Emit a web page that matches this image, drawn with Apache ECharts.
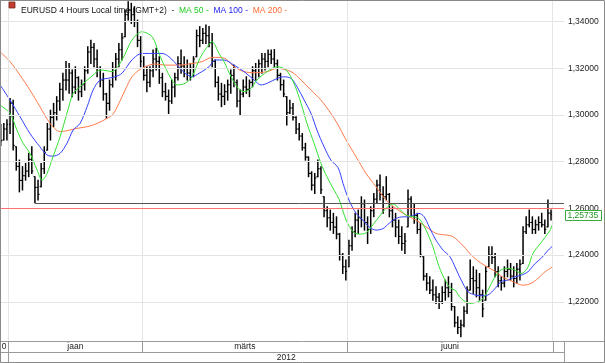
<!DOCTYPE html>
<html><head><meta charset="utf-8">
<script src="https://cdn.jsdelivr.net/npm/echarts@6/dist/echarts.min.js"></script>
<style>html,body{margin:0;padding:0;background:#fff}#c{width:605px;height:363px}</style>
</head><body><div id="c"></div>
<script>
// ---- data ----
const highs = [1.2960,1.2964,1.2980,1.3071,1.3064,1.2864,1.2807,1.2779,1.2793,1.2836,
1.2864,1.2736,1.2721,1.2793,1.2864,1.2964,1.3021,1.3050,1.3079,1.3136,
1.3179,1.3229,1.3221,1.3193,1.3207,1.3164,1.3150,1.3207,1.3293,1.3321,
1.3307,1.3279,1.3207,1.3179,1.3093,1.3150,1.3225,1.3264,1.3307,1.3350,
1.3450,1.3486,1.3479,1.3464,1.3407,1.3336,1.3250,1.3207,1.3207,1.3279,
1.3286,1.3250,1.3179,1.3136,1.3107,1.3150,1.3179,1.3250,1.3279,1.3250,
1.3236,1.3221,1.3250,1.3364,1.3379,1.3371,1.3386,1.3379,1.3350,1.3236,
1.3164,1.3136,1.3130,1.3150,1.3193,1.3214,1.3150,1.3107,1.3150,1.3164,
1.3150,1.3207,1.3221,1.3236,1.3264,1.3264,1.3279,1.3279,1.3281,1.3236,
1.3179,1.3150,1.3079,1.3064,1.3050,1.2993,1.2964,1.2921,1.2879,1.2821,
1.2757,1.2750,1.2807,1.2779,1.2650,1.2607,1.2593,1.2579,1.2564,1.2493,
1.2407,1.2379,1.2464,1.2521,1.2579,1.2593,1.2650,1.2636,1.2564,1.2607,
1.2664,1.2721,1.2743,1.2693,1.2736,1.2664,1.2607,1.2579,1.2550,1.2521,
1.2493,1.2679,1.2650,1.2621,1.2579,1.2536,1.2393,1.2321,1.2307,1.2293,
1.2264,1.2236,1.2264,1.2293,1.2307,1.2279,1.2179,1.2136,1.2121,1.2179,
1.2264,1.2379,1.2350,1.2336,1.2321,1.2250,1.2350,1.2436,1.2436,1.2407,
1.2350,1.2307,1.2350,1.2379,1.2364,1.2350,1.2364,1.2379,1.2521,1.2564,
1.2593,1.2564,1.2550,1.2564,1.2579,1.2550,1.2636,1.2593];
const lows = [1.2870,1.2893,1.2893,1.2921,1.2850,1.2764,1.2671,1.2679,1.2721,1.2736,
1.2750,1.2624,1.2636,1.2693,1.2750,1.2850,1.2893,1.2950,1.2979,1.3021,
1.3064,1.3107,1.3093,1.3079,1.3093,1.3064,1.3079,1.3107,1.3179,1.3221,
1.3207,1.3164,1.3121,1.3064,1.2986,1.3021,1.3120,1.3150,1.3207,1.3236,
1.3336,1.3407,1.3393,1.3379,1.3293,1.3207,1.3150,1.3100,1.3121,1.3164,
1.3193,1.3136,1.3079,1.3064,1.3007,1.3050,1.3079,1.3150,1.3179,1.3164,
1.3150,1.3150,1.3164,1.3250,1.3293,1.3307,1.3307,1.3293,1.3207,1.3121,
1.3064,1.3036,1.3045,1.3064,1.3093,1.3121,1.3036,1.3000,1.3079,1.3093,
1.3079,1.3121,1.3150,1.3164,1.3179,1.3193,1.3207,1.3221,1.3207,1.3150,
1.3107,1.3079,1.2957,1.3007,1.2979,1.2921,1.2893,1.2850,1.2807,1.2736,
1.2679,1.2664,1.2736,1.2664,1.2564,1.2521,1.2507,1.2493,1.2470,1.2379,
1.2321,1.2293,1.2350,1.2421,1.2479,1.2493,1.2521,1.2507,1.2450,1.2493,
1.2564,1.2621,1.2636,1.2579,1.2636,1.2564,1.2521,1.2479,1.2450,1.2421,
1.2407,1.2521,1.2564,1.2536,1.2493,1.2393,1.2293,1.2250,1.2236,1.2207,
1.2193,1.2171,1.2193,1.2207,1.2221,1.2164,1.2093,1.2064,1.2050,1.2093,
1.2150,1.2250,1.2236,1.2221,1.2207,1.2136,1.2207,1.2350,1.2364,1.2307,
1.2264,1.2250,1.2264,1.2307,1.2293,1.2264,1.2279,1.2293,1.2364,1.2493,
1.2521,1.2493,1.2493,1.2507,1.2521,1.2493,1.2521,1.2550];
const closes = [1.2890,1.2940,1.2960,1.3050,1.2870,1.2780,1.2720,1.2740,1.2760,1.2810,
1.2760,1.2690,1.2660,1.2770,1.2840,1.2940,1.2990,1.3010,1.3060,1.3110,
1.3150,1.3150,1.3180,1.3120,1.3160,1.3100,1.3130,1.3190,1.3270,1.3290,
1.3240,1.3200,1.3150,1.3090,1.3050,1.3130,1.3200,1.3240,1.3280,1.3330,
1.3430,1.3450,1.3430,1.3400,1.3320,1.3230,1.3170,1.3140,1.3190,1.3240,
1.3230,1.3160,1.3100,1.3080,1.3060,1.3120,1.3160,1.3220,1.3210,1.3200,
1.3180,1.3200,1.3240,1.3340,1.3320,1.3350,1.3340,1.3310,1.3230,1.3140,
1.3090,1.3080,1.3100,1.3130,1.3170,1.3140,1.3060,1.3090,1.3120,1.3110,
1.3140,1.3190,1.3200,1.3220,1.3240,1.3230,1.3260,1.3240,1.3220,1.3170,
1.3130,1.3090,1.3010,1.3030,1.2990,1.2940,1.2910,1.2860,1.2820,1.2750,
1.2700,1.2730,1.2770,1.2680,1.2590,1.2560,1.2540,1.2520,1.2490,1.2400,
1.2350,1.2330,1.2440,1.2500,1.2550,1.2560,1.2620,1.2540,1.2510,1.2590,
1.2640,1.2700,1.2660,1.2650,1.2660,1.2590,1.2550,1.2520,1.2480,1.2450,
1.2460,1.2640,1.2600,1.2570,1.2510,1.2400,1.2310,1.2280,1.2250,1.2230,
1.2220,1.2200,1.2240,1.2260,1.2240,1.2180,1.2110,1.2090,1.2100,1.2160,
1.2250,1.2300,1.2290,1.2260,1.2230,1.2170,1.2330,1.2400,1.2390,1.2330,
1.2290,1.2280,1.2330,1.2340,1.2310,1.2300,1.2340,1.2360,1.2500,1.2530,
1.2540,1.2510,1.2530,1.2540,1.2530,1.2510,1.2580,1.25735];
const firstOpen = 1.2950;

// moving averages: [bar position, value]
const ma50 = [[-0.2,1.3043],[3.0,1.3007],[5.2,1.2936],[7.2,1.2879],[9.4,1.2836],[11.7,1.2764],[13.3,1.2721],[14.9,1.2750],[16.8,1.2821],[19.1,1.2907],[21.3,1.3007],[23.3,1.3093],[25.5,1.3121],[27.8,1.3150],[29.7,1.3171],[31.9,1.3193],[34.2,1.3190],[35.8,1.3186],[39.0,1.3236],[42.2,1.3321],[45.4,1.3357],[48.7,1.3336],[50.9,1.3264],[52.8,1.3207],[55.1,1.3150],[56.7,1.3129],[59.3,1.3136],[61.5,1.3164],[63.8,1.3236],[65.7,1.3279],[68.0,1.3314],[70.2,1.3264],[71.8,1.3229],[74.1,1.3164],[76.0,1.3121],[78.3,1.3100],[80.5,1.3114],[82.4,1.3150],[85.7,1.3186],[88.9,1.3207],[91.8,1.3193],[94.3,1.3136],[96.6,1.3050],[98.5,1.2964],[100.8,1.2879],[103.0,1.2793],[104.9,1.2736],[107.2,1.2679],[108.8,1.2640],[111.1,1.2550],[113.3,1.2500],[115.2,1.2490],[117.5,1.2495],[119.7,1.2530],[121.7,1.2564],[123.9,1.2600],[126.2,1.2619],[128.1,1.2600],[130.4,1.2571],[132.6,1.2564],[134.5,1.2557],[136.8,1.2507],[139.0,1.2436],[141.0,1.2350],[143.2,1.2286],[144.8,1.2257],[146.1,1.2250],[148.1,1.2214],[150.9,1.2193],[153.5,1.2200],[155.1,1.2214],[156.7,1.2250],[159.0,1.2307],[160.9,1.2336],[163.2,1.2343],[165.4,1.2336],[167.4,1.2321],[169.6,1.2349],[171.2,1.2408],[174.4,1.2464],[176.7,1.2507],[177.6,1.2537]];
const ma100 = [[-0.2,1.3129],[3.0,1.3064],[6.2,1.2993],[9.4,1.2921],[12.6,1.2864],[14.9,1.2829],[16.8,1.2824],[19.1,1.2836],[21.3,1.2879],[23.3,1.2936],[25.5,1.2964],[27.8,1.3036],[29.7,1.3107],[31.9,1.3150],[34.2,1.3157],[36.8,1.3164],[39.0,1.3179],[42.2,1.3236],[45.4,1.3264],[48.7,1.3264],[51.9,1.3264],[54.1,1.3250],[57.3,1.3207],[59.3,1.3179],[61.5,1.3164],[63.8,1.3179],[67.0,1.3207],[68.9,1.3236],[71.8,1.3236],[75.0,1.3214],[78.3,1.3186],[81.5,1.3150],[83.7,1.3129],[85.7,1.3136],[88.9,1.3157],[91.1,1.3164],[93.4,1.3157],[95.3,1.3121],[97.6,1.3064],[99.8,1.3007],[101.7,1.2936],[104.0,1.2864],[106.2,1.2807],[108.5,1.2775],[110.1,1.2707],[112.0,1.2636],[114.3,1.2579],[116.5,1.2550],[118.5,1.2521],[120.7,1.2507],[123.0,1.2514],[124.9,1.2536],[127.1,1.2557],[129.4,1.2564],[131.3,1.2564],[134.5,1.2579],[136.2,1.2564],[137.8,1.2521],[140.0,1.2464],[142.3,1.2421],[144.5,1.2393],[146.1,1.2350],[148.1,1.2293],[150.3,1.2243],[152.6,1.2229],[154.5,1.2226],[156.7,1.2229],[159.0,1.2257],[160.9,1.2286],[163.2,1.2293],[165.4,1.2307],[167.4,1.2314],[169.6,1.2329],[171.9,1.2364],[173.8,1.2386],[176.0,1.2420],[177.6,1.2440]];
const ma200 = [[-0.2,1.3271],[3.0,1.3229],[6.2,1.3171],[9.4,1.3107],[12.6,1.3036],[15.9,1.2964],[19.1,1.2929],[21.3,1.2933],[24.5,1.2943],[27.8,1.2950],[31.0,1.2964],[34.2,1.2986],[36.1,1.3003],[38.0,1.3050],[40.0,1.3107],[42.2,1.3164],[44.5,1.3193],[46.4,1.3207],[49.6,1.3219],[52.8,1.3214],[57.3,1.3214],[61.5,1.3221],[64.7,1.3229],[68.0,1.3247],[70.2,1.3247],[72.5,1.3240],[75.0,1.3207],[78.3,1.3186],[81.5,1.3181],[85.7,1.3186],[88.9,1.3200],[93.4,1.3186],[96.6,1.3150],[99.8,1.3107],[103.0,1.3064],[106.2,1.3007],[108.2,1.2965],[111.1,1.2893],[114.3,1.2821],[117.5,1.2750],[120.7,1.2693],[123.9,1.2636],[127.1,1.2600],[130.4,1.2571],[133.6,1.2550],[136.8,1.2521],[140.0,1.2493],[143.2,1.2486],[145.5,1.2479],[148.7,1.2440],[151.9,1.2393],[155.1,1.2360],[158.3,1.2336],[161.6,1.2305],[164.8,1.2286],[168.0,1.2271],[170.6,1.2279],[172.8,1.2300],[175.1,1.2329],[177.6,1.2350]];

const yTicks = [1.22,1.24,1.26,1.28,1.30,1.32,1.34];
const monthNames = ['0','jaan','märts','juuni'];
const monthStarts = [3, 46, 112, 178];   // first bar of each period
const yearLabel = '2012';
const lastPrice = 1.25735;
const supportLevel = 1.2624;
const supportStart = 11;

// ---- layout ----
const X_MIN = -0.233, X_MAX = 181.17;
const FONT = "'Liberation Sans', Arial, sans-serif";
const fmt = v => v.toFixed(5).replace('.', ',');

const bars = highs.map((h, i) => {
  let o = i === 0 ? firstOpen : closes[i - 1];
  o = Math.min(Math.max(o, lows[i]), h);
  return [i, o, closes[i], lows[i], h];
});

const chart = echarts.init(document.getElementById('c'), null, {renderer: 'canvas'});
chart.setOption({
  animation: false,
  backgroundColor: '#fff',
  title: {
    left: 16, top: 1,
    text: '{k|EURUSD 4 Hours Local time (GMT+2)}  -  {g|MA 50 -}  {b|MA 100 -}  {o|MA 200 -}',
    textStyle: {
      fontSize: 8.5, fontFamily: FONT, fontWeight: 'normal', color: '#222',
      rich: {
        k: {color: '#111', fontSize: 8.5, fontFamily: FONT},
        g: {color: '#22cc22', fontSize: 8.5, fontFamily: FONT},
        b: {color: '#2222ee', fontSize: 8.5, fontFamily: FONT},
        o: {color: '#ff6a33', fontSize: 8.5, fontFamily: FONT}
      }
    }
  },
  grid: {left: 0, right: 41, top: 0, bottom: 22, containLabel: false},
  xAxis: {type: 'value', min: X_MIN, max: X_MAX, show: false, splitLine: {show: false}},
  yAxis: {
    type: 'value', position: 'right', min: 1.2032, max: 1.3493, scale: true,
    axisLine: {show: true, lineStyle: {color: '#777', type: [2, 2], width: 1}},
    axisTick: {show: true, length: 3, customValues: yTicks, lineStyle: {color: '#777'}},
    axisLabel: {customValues: yTicks, formatter: fmt, fontSize: 8.5, fontFamily: FONT, color: '#222', margin: 4},
    splitLine: {show: false}
  },
  series: [
    {
      name: 'grid', type: 'line', data: [], z: 1, silent: true,
      markLine: {
        silent: true, symbol: ['none', 'none'], label: {show: false}, animation: false,
        lineStyle: {color: '#e4e4e4', width: 1, type: 'solid'},
        data: yTicks.map(v => ({yAxis: v})).concat(monthStarts.map(n => ({xAxis: n - 0.5})))
      }
    },
    {
      name: 'EURUSD', type: 'custom', z: 3, data: bars,
      encode: {x: 0, y: [1, 2, 3, 4]},
      renderItem: (params, api) => {
        const x = api.value(0);
        const pH = api.coord([x, api.value(4)]);
        const pL = api.coord([x, api.value(3)]);
        const pO = api.coord([x, api.value(1)]);
        const pC = api.coord([x, api.value(2)]);
        const st = {stroke: '#000', lineWidth: 1.5};
        const tk = {stroke: '#000', lineWidth: 1.1};
        return {type: 'group', children: [
          {type: 'line', shape: {x1: pH[0], y1: pH[1] - 0.5, x2: pL[0], y2: pL[1] + 0.5}, style: st},
          {type: 'line', shape: {x1: pO[0] - 1.5, y1: pO[1], x2: pO[0], y2: pO[1]}, style: tk},
          {type: 'line', shape: {x1: pC[0], y1: pC[1], x2: pC[0] + 1.5, y2: pC[1]}, style: tk}
        ]};
      }
    },
    {name: 'MA 200', type: 'line', data: ma200, showSymbol: false, smooth: 0.3, z: 4,
      lineStyle: {color: '#ff7a4a', width: 1}},
    {name: 'MA 100', type: 'line', data: ma100, showSymbol: false, smooth: 0.3, z: 4,
      lineStyle: {color: '#3340ff', width: 1}},
    {name: 'MA 50', type: 'line', data: ma50, showSymbol: false, smooth: 0.3, z: 4,
      lineStyle: {color: '#33e033', width: 1}},
    {
      name: 'levels', type: 'line', data: [], z: 5, silent: true,
      markLine: {
        silent: true, symbol: ['none', 'none'], animation: false, label: {show: false},
        data: [
          {yAxis: lastPrice, lineStyle: {color: '#ff7070', width: 1, type: 'solid'}},
          [{coord: [supportStart, supportLevel], lineStyle: {color: '#555', width: 1, type: 'solid'}},
           {coord: [X_MAX, supportLevel]}]
        ]
      }
    }
  ]
});

// bottom period rows, positioned through the x scale
const px = v => chart.convertToPixel({xAxisIndex: 0}, v);
const py = v => chart.convertToPixel({yAxisIndex: 0}, v);
const b = monthStarts.map(n => px(n - 0.5));
const right = px(X_MAX);
const yTop = 341, yMid = 352, yBot = 362.5;
const lc = '#9a9a9a';
const els = [];
const hl = (x1, x2, y) => els.push({type: 'line', shape: {x1, y1: y + 0.5, x2, y2: y + 0.5}, style: {stroke: lc, lineWidth: 1}, z: 10});
const vl = (x, y1, y2) => els.push({type: 'line', shape: {x1: Math.round(x) + 0.5, y1, x2: Math.round(x) + 0.5, y2}, style: {stroke: lc, lineWidth: 1}, z: 10});
const tx = (text, x, y, align) => els.push({type: 'text', x, y, z: 10, style: {text, fontSize: 8.5, fontFamily: FONT, fill: '#222', align: align || 'center', verticalAlign: 'middle'}});
hl(0, 605, yTop);
hl(0, right, yMid);
b.forEach(x => vl(x, yTop, yMid));
vl(b[0], yMid, yBot);
vl(right, yTop, yBot);
tx(monthNames[0], b[0] - 2, (yTop + yMid) / 2 + 0.5, 'right');
tx(monthNames[1], (b[0] + b[1]) / 2, (yTop + yMid) / 2 + 0.5);
tx(monthNames[2], (b[1] + b[2]) / 2, (yTop + yMid) / 2 + 0.5);
tx(monthNames[3], (b[2] + b[3]) / 2, (yTop + yMid) / 2 + 0.5);
tx(yearLabel, (b[0] + right) / 2, (yMid + yBot) / 2 + 0.5);
// last price box on the right axis
const yp = py(lastPrice);
els.push({type: 'rect', z: 12, shape: {x: right + 1.5, y: Math.round(yp) - 4.5, width: 36, height: 10},
  style: {fill: '#fff', stroke: '#3aaa3a', lineWidth: 1}});
els.push({type: 'text', z: 13, x: right + 3.5, y: Math.round(yp) + 0.5,
  style: {text: fmt(lastPrice), fontSize: 8.5, fontFamily: FONT, fill: '#1f9a1f', align: 'left', verticalAlign: 'middle'}});
// frame and title icon
els.push({type: 'rect', shape: {x: 0.5, y: 0.5, width: 604, height: 362}, style: {fill: 'none', stroke: '#8a8a8a', lineWidth: 1}, z: 11});
els.push({type: 'rect', shape: {x: 9, y: 2, width: 6, height: 6}, style: {fill: '#c43a2f', stroke: '#7a2a22', lineWidth: 0.8}, z: 11});
chart.setOption({graphic: {elements: els}});
</script>
</body></html>
